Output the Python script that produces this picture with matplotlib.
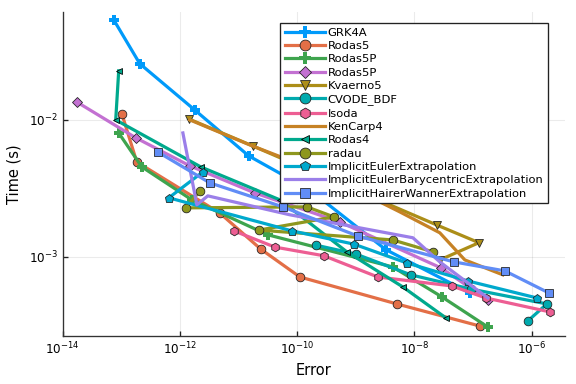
import matplotlib
matplotlib.use("Agg")
import matplotlib.pyplot as plt
from matplotlib.ticker import NullLocator

# ---------------- data (error, time in seconds) ----------------
grk4a_err = [7.4e-14, 2.06e-13, 1.79e-12, 1.49e-11, 1.64e-10, 3.25e-9, 8.8e-8]
grk4a_t = [0.0537, 0.0257, 0.0118, 0.00546, 0.00308, 0.00113, 5.46e-4]

rodas5_err = [1.02e-13, 1.83e-13, 4.78e-12, 2.39e-11, 1.11e-10, 5.0e-9, 1.31e-7]
rodas5_t = [0.01106, 0.00493, 0.00209, 0.00114, 7.14e-4, 4.54e-4, 3.13e-4]

rodas5p_err = [9.0e-14, 2.23e-13, 1.59e-12, 3.15e-11, 4.27e-9, 2.94e-8, 1.79e-7]
rodas5p_t = [0.00803, 0.00454, 0.00261, 0.00145, 8.45e-4, 5.11e-4, 3.08e-4]

rodas5p2_err = [1.73e-14, 1.76e-13, 1.47e-12, 1.89e-11, 5.33e-10, 2.83e-8, 1.79e-7]
rodas5p2_t = [0.01352, 0.00740, 0.00462, 0.00293, 0.00180, 8.32e-4, 4.85e-4]

kvaerno5_err = [1.41e-12, 1.75e-11, 2.43e-10, 2.41e-8, 1.26e-7, 2.71e-8]
kvaerno5_t = [0.01017, 0.00645, 0.00397, 0.00171, 0.00127, 9.51e-4]

cvode_err = [2.07e-10, 1.0e-9, 8.69e-9, 9.17e-8, 1.82e-6, 8.6e-7]
cvode_t = [0.00122, 0.00105, 7.40e-4, 5.83e-4, 4.54e-4, 3.41e-4]

isoda_err = [8.28e-12, 4.15e-11, 2.84e-10, 2.37e-9, 4.35e-8, 1.65e-7, 2.05e-6]
isoda_t = [0.00155, 0.00118, 0.00102, 7.14e-4, 6.14e-4, 5.02e-4, 3.97e-4]

kencarp4_err = [1.47e-12, 1.55e-11, 2.43e-10, 5.64e-9, 2.71e-8, 7.24e-8, 3.23e-7]
kencarp4_t = [0.0100, 0.00657, 0.00417, 0.00213, 0.00150, 9.51e-4, 7.40e-4]

rodas4_err = [9.0e-14, 8.0e-14, 2.26e-12, 5.05e-11, 7.01e-10, 6.34e-9, 3.44e-8]
rodas4_t = [0.0228, 0.0100, 0.00454, 0.00261, 0.00109, 6.04e-4, 3.59e-4]

radau_err = [2.18e-12, 1.26e-12, 1.46e-10, 4.22e-10, 2.21e-11, 4.27e-9, 2.06e-8]
radau_t = [0.00303, 0.00228, 0.00232, 0.00196, 0.00157, 0.00133, 0.00109]

iee_err = [2.45e-12, 6.44e-13, 8.09e-11, 9.25e-10, 7.41e-9, 8.15e-8, 1.23e-6]
iee_t = [0.00417, 0.00270, 0.00155, 0.00124, 9.04e-4, 6.68e-4, 5.02e-4]

ieb_err = [1.12e-12, 1.94e-12, 2.98e-12, 7.48e-11, 9.4e-9, 2.71e-8, 1.79e-7]
ieb_t = [0.00803, 0.00240, 0.00279, 0.00203, 0.00138, 9.2e-4, 5.02e-4]

ihw_err = [4.18e-13, 3.23e-12, 5.67e-11, 1.08e-9, 4.70e-8, 3.49e-7, 1.97e-6]
ihw_t = [0.00583, 0.00347, 0.00232, 0.00142, 9.2e-4, 7.91e-4, 5.46e-4]

labels = ["GRK4A", "Rodas5", "Rodas5P", "Rodas5P", "Kvaerno5", "CVODE_BDF", "lsoda",
          "KenCarp4", "Rodas4", "radau", "ImplicitEulerExtrapolation",
          "ImplicitEulerBarycentricExtrapolation", "ImplicitHairerWannerExtrapolation"]

series = [
    (grk4a_err, grk4a_t, "#009AFA", "P"),
    (rodas5_err, rodas5_t, "#E36F47", "o"),
    (rodas5p_err, rodas5p_t, "#3EA44E", "P"),
    (rodas5p2_err, rodas5p2_t, "#C371D2", "D"),
    (kvaerno5_err, kvaerno5_t, "#AC8E18", "v"),
    (cvode_err, cvode_t, "#00AAAE", "o"),
    (isoda_err, isoda_t, "#ED5E93", "h"),
    (kencarp4_err, kencarp4_t, "#C68225", None),
    (rodas4_err, rodas4_t, "#00A98D", "<"),
    (radau_err, radau_t, "#8E971E", "o"),
    (iee_err, iee_t, "#00A9CD", "p"),
    (ieb_err, ieb_t, "#9B7FE9", None),
    (ihw_err, ihw_t, "#618DF6", "s"),
]

fig = plt.figure(figsize=(6, 4), dpi=96)
ax = fig.add_axes([0.109, 0.125, 0.872, 0.844])

for (xs, ys, col, mk), lab in zip(series, labels):
    kw = dict(color=col, lw=2.4, label=lab)
    if mk is not None:
        if mk == "P":
            kw.update(marker=mk, markersize=7.5, markeredgewidth=0, markerfacecolor=col)
        elif mk == "<":
            kw.update(marker=mk, markersize=4.5, markeredgecolor="black",
                      markeredgewidth=0.6, markerfacecolor=col)
        elif mk == "D":
            kw.update(marker=mk, markersize=5.5, markeredgecolor="#222222",
                      markeredgewidth=0.6, markerfacecolor=col)
        else:
            kw.update(marker=mk, markersize=6.5, markeredgecolor="#222222",
                      markeredgewidth=0.6, markerfacecolor=col)
    ax.plot(xs, ys, **kw)

ax.set_xscale("log")
ax.set_yscale("log")
ax.set_xlim(1e-14, 10 ** -5.43)
ax.set_ylim(10 ** -3.577, 10 ** -1.212)
ax.set_xticks([1e-14, 1e-12, 1e-10, 1e-8, 1e-6])
ax.set_yticks([1e-3, 1e-2])
ax.xaxis.set_minor_locator(NullLocator())
ax.yaxis.set_minor_locator(NullLocator())
ax.tick_params(direction="in", length=4, width=1, labelsize=9, colors="#222222",
               labelcolor="black")
ax.grid(True, color="#000000", alpha=0.08, lw=0.8)
for s in ["top", "right"]:
    ax.spines[s].set_visible(False)
for s in ["left", "bottom"]:
    ax.spines[s].set_color("#333333")
    ax.spines[s].set_linewidth(1.0)

ax.set_xlabel("Error", fontsize=11)
ax.set_ylabel("Time (s)", fontsize=11, labelpad=6)

leg = ax.legend(loc="upper right", bbox_to_anchor=(0.966, 0.966), borderaxespad=0,
                fontsize=8.6, frameon=True, fancybox=False, edgecolor="#222222",
                handlelength=3.5, labelspacing=0.29, borderpad=0.4, handletextpad=0.25,
                framealpha=1.0, markerscale=1.25)
leg.get_frame().set_linewidth(1.0)

fig.savefig("out.png", dpi=96)
